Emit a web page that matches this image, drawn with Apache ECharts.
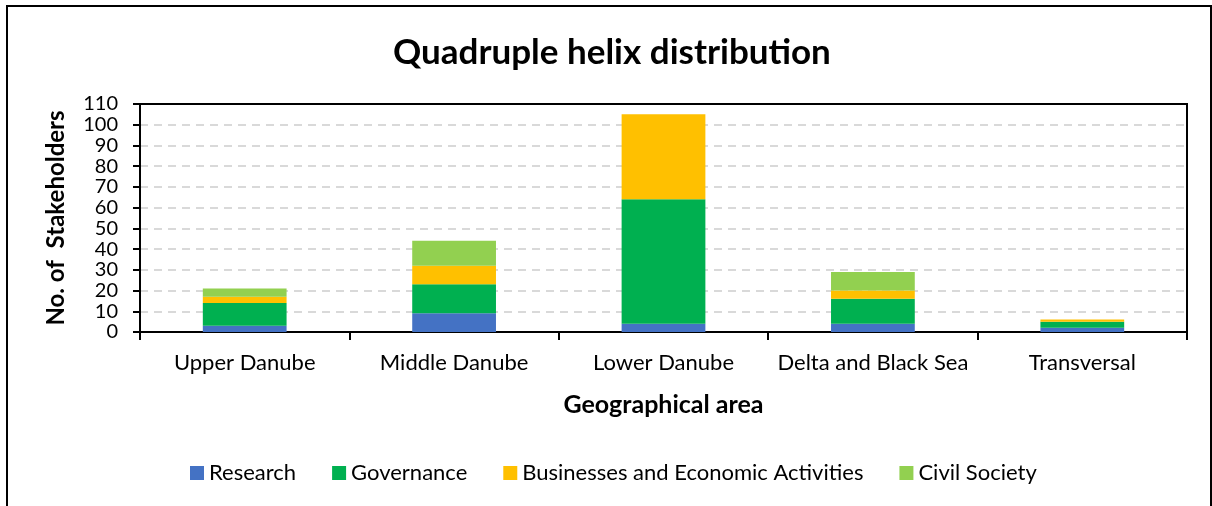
<!DOCTYPE html>
<html>
<head>
<meta charset="utf-8">
<script src="https://cdn.jsdelivr.net/npm/echarts@6/dist/echarts.min.js"></script>
<style>
  body { margin: 0; background: #fff; }
  .frame {
    position: absolute; left: 6px; top: 5px;
    width: 1202px; height: 520px;
    border: 2px solid #000;
  }
  #chart { position: absolute; left: 0; top: 0; width: 1212px; height: 506px; }
</style>
</head>
<body>
<div class="frame"></div>
<div id="chart"></div>
<script>
// 地理区域
var areas = ['Upper Danube', 'Middle Danube', 'Lower Danube', 'Delta and Black Sea', 'Transversal'];
// 各类利益相关者数量
var research = [3, 9, 4, 4, 2];
var governance = [11, 14, 60, 12, 3];
var business = [3, 9, 41, 4, 1];
var civil = [4, 12, 0, 9, 0];
var yTicks = [0, 110, 10];

var font = 'Lato, "Open Sans", sans-serif';

function bar(name, data, color) {
  return {
    name: name,
    type: 'bar',
    stack: 'total',
    barWidth: '40%',
    data: data,
    itemStyle: { color: color },
    emphasis: { disabled: true }
  };
}

var myChart = echarts.init(document.getElementById('chart'));
myChart.setOption({
  animation: false,
  textStyle: { fontFamily: font },
  title: {
    text: 'Quadruple helix distribution',
    left: 388,
    top: 30,
    textStyle: { fontSize: 35, fontWeight: 'bold', color: '#000', fontFamily: font }
  },
  legend: {
    bottom: 22,
    left: 190,
    padding: 0,
    itemWidth: 14,
    itemHeight: 14,
    itemGap: 36,
    icon: 'rect',
    textStyle: { fontSize: 22, color: '#000', fontFamily: font },
    data: ['Research', 'Governance', 'Businesses and Economic Activities', 'Civil Society']
  },
  grid: {
    left: 140, right: 25, top: 104, bottom: 174,
    show: true, borderColor: '#000', borderWidth: 2
  },
  xAxis: {
    type: 'category',
    data: areas,
    name: 'Geographical area',
    nameLocation: 'middle',
    nameGap: 60,
    nameTextStyle: { fontSize: 25, fontWeight: 'bold', color: '#000' },
    axisLine: { lineStyle: { color: '#000', width: 2 } },
    axisTick: { show: true, length: 8, lineStyle: { color: '#000', width: 2 } },
    axisLabel: { interval: 0, fontSize: 22, color: '#000', margin: 20 }
  },
  yAxis: {
    type: 'value',
    min: yTicks[0],
    max: yTicks[1],
    interval: yTicks[2],
    name: 'No. of  Stakeholders',
    nameLocation: 'middle',
    nameGap: 72,
    nameTextStyle: { fontSize: 24, fontWeight: 'bold', color: '#000' },
    axisLine: { show: true, lineStyle: { color: '#000', width: 2 } },
    axisTick: { show: true, length: 7, lineStyle: { color: '#000', width: 2 } },
    axisLabel: { fontSize: 20, color: '#000', margin: 22 },
    splitLine: { showMaxLine: false, lineStyle: { color: '#d9d9d9', width: 2, type: [8, 6] } }
  },
  series: [
    bar('Research', research, '#4472c4'),
    bar('Governance', governance, '#00b050'),
    bar('Businesses and Economic Activities', business, '#ffc000'),
    bar('Civil Society', civil, '#92d050')
  ]
});
</script>
</body>
</html>
